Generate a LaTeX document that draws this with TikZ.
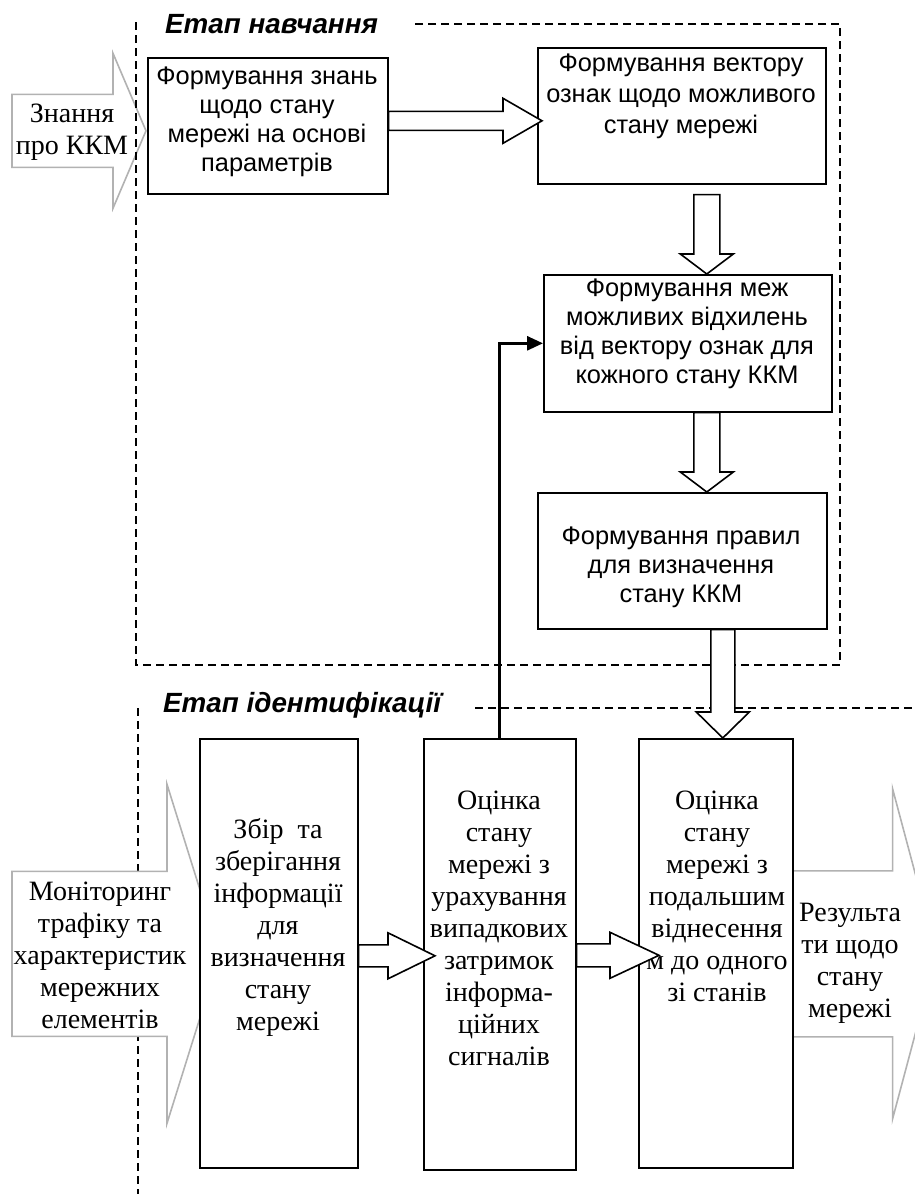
\documentclass[tikz,border=0pt]{standalone}
\usepackage{fontspec}
\setmainfont{Liberation Serif}
\setsansfont{Liberation Sans}
\usetikzlibrary{calc,arrows.meta,backgrounds}

% hollow block arrows: [style]{start}{tip}{shaft half width}{head half width}{head length}
\newcommand\blockH[6][blockarrow]{%
  \draw[#1] let \p1=(#2), \p2=(#3) in
    (\x1,\y2+#4) -- (\x2-#6,\y2+#4) -- (\x2-#6,\y2+#5) -- (\x2,\y2)
    -- (\x2-#6,\y2-#5) -- (\x2-#6,\y2-#4) -- (\x1,\y2-#4) -- cycle;}
\newcommand\blockV[6][blockarrow]{%
  \draw[#1] let \p1=(#2), \p2=(#3) in
    (\x2-#4,\y1) -- (\x2-#4,\y2+#6) -- (\x2-#5,\y2+#6) -- (\x2,\y2)
    -- (\x2+#5,\y2+#6) -- (\x2+#4,\y2+#6) -- (\x2+#4,\y1) -- cycle;}

\begin{document}
\begin{tikzpicture}[x=1pt,y=-1pt,
  box/.style={draw=black, line width=1.6pt, fill=white, inner sep=0pt, anchor=north west},
  sanstxt/.style={font=\sffamily\fontsize{25.4}{29}\selectfont, align=center, inner sep=0pt},
  seriftxt/.style={font=\rmfamily\fontsize{28}{32}\selectfont, align=center, inner sep=0pt},
  stagetitle/.style={font=\sffamily\bfseries\itshape\fontsize{27.8}{30}\selectfont, inner sep=0pt, anchor=base west},
  frame/.style={line width=1.4pt, dash pattern=on 8pt off 5pt},
  inarrow/.style={draw=black!30, line width=1.6pt, fill=white, line join=miter},
  blockarrow/.style={draw=black, line width=1.6pt, fill=white, line join=miter},
  feedback/.style={line width=2.8pt, -{Triangle[length=16pt,width=14pt]}},
]
\useasboundingbox (0,0) rectangle (915,1194);
\clip (0,0) rectangle (915,1194);

% learning stage
\node[box, minimum width=240pt, minimum height=136pt] (b1) at (147,57) {};
\node[box, minimum width=288pt, minimum height=136pt] (b2) at (537,47) {};
\node[box, minimum width=288pt, minimum height=137pt] (b3) at (543,274) {};
\node[box, minimum width=289pt, minimum height=136pt] (b4) at (537,492) {};
% identification stage
\node[box, minimum width=158pt, minimum height=429pt] (b5) at (199,738) {};
\node[box, minimum width=152pt, minimum height=431pt] (b6) at (423,738) {};
\node[box, minimum width=154pt, minimum height=429pt] (b7) at (638,738) {};

\node[sanstxt] (t1) at (267,122) {Формування знань\\щодо стану\\мережі на основі\\параметрів};
\node[sanstxt, font=\sffamily\fontsize{25.4}{31}\selectfont] (t2) at (681,96) {Формування вектору\\ознак щодо можливого\\стану мережі};
\node[sanstxt] (t3) at (687,334) {Формування меж\\можливих відхилень\\від вектору ознак для\\кожного стану ККМ};
\node[sanstxt] (t4) at (681,567) {Формування правил\\для визначення\\стану ККМ};
\node[seriftxt] (t5) at (278,927) {Збір\ \ та\\зберігання\\інформації\\для\\визначення\\стану\\мережі};
\node[seriftxt] (t6) at (499,928) {Оцінка\\стану\\мережі з\\урахування\\випадкових\\затримок\\інформа-\\ційних\\сигналів};
\node[seriftxt] (t7) at (717,896) {Оцінка\\стану\\мережі з\\подальшим\\віднесення\\м до одного\\зі станів};

\node[seriftxt] (kn) at (72,132) {Знання\\про ККМ};
\node[seriftxt] (mon) at (100,955) {Моніторинг\\трафіку та\\характеристик\\мережних\\елементів};
\node[seriftxt] (res) at (850,963) {Результа\\ти щодо\\стану\\мережі};

\node[stagetitle] (s1) at (165,33) {Етап навчання};
\node[stagetitle] (s2) at (163,712) {Етап ідентифікації};

% flow between the blocks
\coordinate (tip12) at ($(b2.west)+(5,5)$);
\blockH{b1.east}{tip12}{9.5pt}{22.5pt}{39pt}
\coordinate (s23) at ($(b2.south)+(25,10)$);
\coordinate (tip23) at ($(b3.north)+(19,0)$);
\blockV{s23}{tip23}{13pt}{26.5pt}{20pt}
\coordinate (s34) at ($(b3.south)+(19,0)$);
\coordinate (tip34) at ($(b4.north)+(24.5,0)$);
\blockV{s34}{tip34}{13pt}{26.5pt}{20pt}
\coordinate (s47) at ($(b4.south)+(40,0)$);
\coordinate (tip47) at ($(b7.north)+(7,0)$);
\blockV{s47}{tip47}{12pt}{26.5pt}{26pt}
\coordinate (tip56) at ($(b6.west)+(12,1.5)$);
\blockH{b5.east}{tip56}{11pt}{23pt}{47pt}
\coordinate (tip67) at ($(b7.west)+(21,2)$);
\blockH{b6.east}{tip67}{11.5pt}{23pt}{49pt}

% feedback from the estimation block
\draw[feedback] (b6.north) |- (b3.west);

\begin{scope}[on background layer]
  \coordinate (tipK) at ($(b1.west)+(-1,5)$);
  \blockH[inarrow]{12,0}{tipK}{36.5pt}{77.5pt}{33pt}
  % stage frames
  \draw[frame] (136,22) -- (136,665) -- (840,665) -- (840,24) -- (413,24);
  \draw[frame] (475,708) -- (915,708);
  \draw[frame] (138,708) -- (138,1194);
  \coordinate (tipM) at ($(b5.west)+(21,0.5)$);
  \blockH[inarrow]{12,0}{tipM}{82.5pt}{169.5pt}{53pt}
  \coordinate (tipR) at ($(b7.east)+(143,0.5)$);
  \blockH[inarrow]{b7.center}{tipR}{83pt}{165pt}{44pt}
\end{scope}
\end{tikzpicture}
\end{document}
